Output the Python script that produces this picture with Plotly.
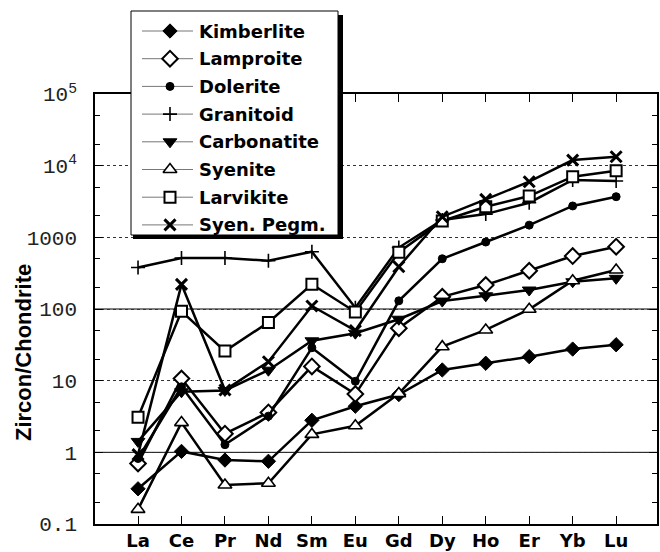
import plotly.graph_objects as go

# Chondrite-normalised REE patterns of zircon from different host rocks
elements = ["La", "Ce", "Pr", "Nd", "Sm", "Eu", "Gd", "Dy", "Ho", "Er", "Yb", "Lu"]

kimberlite = [0.31, 1.03, 0.78, 0.75, 2.8, 4.4, 6.4, 14.1, 17.5, 21.6, 27.6, 31.7]
lamproite = [0.70, 10.7, 1.82, 3.6, 15.8, 6.5, 54, 148, 216, 342, 548, 740]
dolerite = [0.82, 8.2, 1.28, 3.2, 28.8, 9.8, 130, 502, 860, 1480, 2740, 3690]
granitoid = [380, 515, 515, 472, 630, 104, 720, 1745, 2110, 3040, 6310, 6100]
carbonatite = [1.42, 7.0, 7.3, 14, 36, 46, 72, 129, 153, 184, 240, 268]
syenite = [0.16, 2.6, 0.35, 0.37, 1.78, 2.35, 6.6, 29.8, 51, 99, 248, 350]
larvikite = [3.08, 93, 25.9, 65, 221, 91, 620, 1690, 2670, 3770, 7010, 8510]
syen_pegm = [0.93, 221, 7.4, 18.4, 110, 50, 389, 1940, 3390, 5970, 11970, 13300]

series_names = ["Kimberlite", "Lamproite", "Dolerite", "Granitoid",
                "Carbonatite", "Syenite", "Larvikite", "Syen. Pegm."]
series_values = [kimberlite, lamproite, dolerite, granitoid,
                 carbonatite, syenite, larvikite, syen_pegm]

y_tickvals = [0.1, 1, 10, 100, 1000, 1e4, 1e5]
y_ticktext = ["0.1", "1", "10", "100", "1000", "10<sup>4</sup>", "10<sup>5</sup>"]

# marker styling per rock type: (symbol, size, fill, outline width)
marker_styles = [
    ("diamond", 11, "black", 1),
    ("diamond", 12, "white", 2),
    ("circle", 8, "black", 1),
    ("cross-thin", 10, "black", 1.6),
    ("triangle-down", 12, "black", 1),
    ("triangle-up", 12, "white", 1.6),
    ("square", 11, "white", 2),
    ("x-thin", 11, "black", 3),
]

W, H = 660, 552
# plot frame in page pixels
PL, PR, PT, PB = 95, 657, 94, 524
# legend box in page pixels
LB_L, LB_R, LB_T, LB_B = 131, 338, 11, 235
LEG_ROW0, LEG_ROW_STEP = 31, 27.7
LEG_LINE_X0, LEG_LINE_X1, LEG_MARK_X, LEG_TEXT_X = 142, 193, 170, 197


def fx(p):
    return p / W


def fy(p):
    return (H - p) / H


fig = go.Figure()
x_idx = list(range(len(elements)))
for name, vals, (sym, size, fill, lw) in zip(series_names, series_values, marker_styles):
    fig.add_trace(go.Scatter(
        x=x_idx, y=vals, name=name, mode="lines+markers",
        line=dict(color="black", width=2.5),
        marker=dict(symbol=sym, size=size, color=fill,
                    line=dict(color="black", width=lw)),
        showlegend=False,
    ))

label_font = dict(family="DejaVu Sans", size=18, color="black", weight="bold")

fig.update_layout(
    xaxis=dict(
        domain=[fx(PL), fx(PR)],
        range=[-0.99, 11.94], tickmode="array", tickvals=x_idx, ticktext=elements,
        ticks="inside", ticklen=8, tickwidth=1, tickcolor="black",
        showline=True, linecolor="black", linewidth=1.5, mirror="ticks",
        showgrid=False, zeroline=False, tickfont=label_font, ticklabelstandoff=0,
        automargin=False,
    ),
    yaxis=dict(
        domain=[fy(PB), fy(PT)],
        type="log", range=[-1, 5], tickmode="array", tickvals=y_tickvals, ticktext=y_ticktext,
        ticks="inside", ticklen=8, tickwidth=1, tickcolor="black",
        minor=dict(ticks="inside", ticklen=5, tickcolor="black", tickwidth=1, showgrid=False),
        showline=True, linecolor="black", linewidth=1.5, mirror="ticks",
        showgrid=True, gridcolor="#333333", gridwidth=1, griddash="dot",
        tickfont=dict(family="Liberation Mono, Courier New, monospace", size=21, color="#222222"),
        ticklabelstandoff=12, automargin=False,
    ),
    # small overlay panel that holds the key
    xaxis2=dict(domain=[fx(LB_L), fx(LB_R)], range=[LB_L, LB_R], visible=False,
                fixedrange=True, anchor="y2"),
    yaxis2=dict(domain=[fy(LB_B), fy(LB_T)], range=[LB_B, LB_T], visible=False,
                fixedrange=True, anchor="x2"),
)

# solid rules at the 1 and 100 levels
for lvl in (1, 100):
    fig.add_shape(type="line", xref="x domain", yref="y", x0=0, x1=1, y0=lvl, y1=lvl,
                  line=dict(color="black", width=1), layer="below")

# key: sample lines, markers and names
rows = [LEG_ROW0 + i * LEG_ROW_STEP for i in range(len(series_names))]
line_x, line_y = [], []
for r in rows:
    line_x += [LEG_LINE_X0, LEG_LINE_X1, None]
    line_y += [r, r, None]
fig.add_trace(go.Scatter(x=line_x, y=line_y, xaxis="x2", yaxis="y2", mode="lines",
                         line=dict(color="#777777", width=1), showlegend=False,
                         hoverinfo="skip"))
for name, r, (sym, size, fill, lw) in zip(series_names, rows, marker_styles):
    fig.add_trace(go.Scatter(
        x=[LEG_MARK_X], y=[r], xaxis="x2", yaxis="y2", mode="markers",
        marker=dict(symbol=sym, size=size, color=fill, line=dict(color="black", width=lw)),
        showlegend=False, hoverinfo="skip",
    ))
    fig.add_annotation(text=name, xref="paper", yref="paper", x=fx(LEG_TEXT_X), y=fy(r),
                       xanchor="left", yanchor="middle", showarrow=False, font=label_font)

# key frame and its drop shadow
fig.add_shape(type="rect", xref="paper", yref="paper",
              x0=fx(LB_L), x1=fx(LB_R), y0=fy(LB_B), y1=fy(LB_T),
              line=dict(color="black", width=1), fillcolor="rgba(0,0,0,0)", layer="above")
shadow = dict(type="rect", xref="paper", yref="paper", fillcolor="black",
              line=dict(width=0), layer="above")
fig.add_shape(**shadow, x0=fx(LB_R), x1=fx(LB_R + 5), y0=fy(LB_B + 4), y1=fy(LB_T + 4))
fig.add_shape(**shadow, x0=fx(LB_L + 2), x1=fx(LB_R + 5), y0=fy(LB_B + 4), y1=fy(LB_B))

fig.add_annotation(
    text="Zircon/Chondrite", textangle=-90, showarrow=False,
    xref="paper", yref="paper", x=fx(23), y=fy(353),
    xanchor="center", yanchor="middle",
    font=dict(family="Liberation Sans, Arial, sans-serif", size=22,
              color="black", weight="bold"),
)

fig.update_layout(
    width=W, height=H,
    margin=dict(l=0, r=0, t=0, b=0, pad=0),
    paper_bgcolor="white", plot_bgcolor="white",
    showlegend=False,
)

fig.write_html("out.html")
